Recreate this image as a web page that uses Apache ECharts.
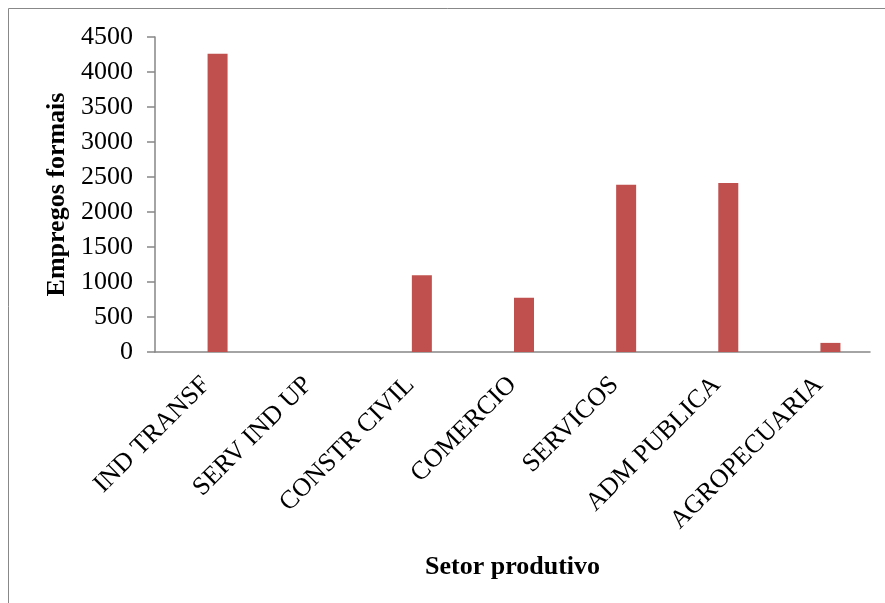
<!DOCTYPE html>
<html>
<head>
<meta charset="utf-8">
<script src="https://cdn.jsdelivr.net/npm/echarts@6/dist/echarts.min.js"></script>
<style>
html,body{margin:0;padding:0;background:#fff;}
#c{width:885px;height:603px;}
</style>
</head>
<body>
<div id="c"></div>
<script>
var categories = ['IND TRANSF', 'SERV IND UP', 'CONSTR CIVIL', 'COMERCIO', 'SERVICOS', 'ADM PUBLICA', 'AGROPECUARIA'];
var empregos = [4260, 0, 1095, 775, 2390, 2415, 130];
var placeholder = [null, null, null, null, null, null, null];
var yTicks = {min: 0, max: 4500, interval: 500};

var chart = echarts.init(document.getElementById('c'));
var font = 'Liberation Serif, Times New Roman, serif';
chart.setOption({
  animation: false,
  backgroundColor: '#fff',
  graphic: [{
    type: 'rect',
    shape: {x: 8.5, y: 8.5, width: 900, height: 620},
    style: {fill: 'none', stroke: '#888888', lineWidth: 1},
    silent: true
  }],
  grid: {left: 155, right: 15, top: 37, bottom: 251, containLabel: false},
  xAxis: {
    type: 'category',
    data: categories,
    name: 'Setor produtivo',
    nameLocation: 'middle',
    nameGap: 202,
    nameTextStyle: {fontFamily: font, fontSize: 26, fontWeight: 'bold', color: '#000'},
    axisLine: {lineStyle: {color: '#868686', width: 1.5}},
    axisTick: {show: false},
    axisLabel: {rotate: 45, interval: 0, margin: 29, fontFamily: font, fontSize: 26, color: '#000'},
    splitLine: {show: false}
  },
  yAxis: {
    type: 'value',
    min: yTicks.min, max: yTicks.max, interval: yTicks.interval,
    name: 'Empregos formais',
    nameLocation: 'middle',
    nameGap: 85,
    nameRotate: 90,
    nameTextStyle: {fontFamily: font, fontSize: 26, fontWeight: 'bold', color: '#000'},
    axisLine: {show: true, lineStyle: {color: '#868686', width: 1.5}},
    axisTick: {show: true, length: 8, lineStyle: {color: '#868686', width: 1.5}},
    axisLabel: {margin: 22, fontFamily: font, fontSize: 26, color: '#000',
      formatter: function (v) { return String(v); }},
    splitLine: {show: false}
  },
  series: [{
    name: 'placeholder',
    type: 'bar',
    data: placeholder,
    barWidth: 20,
    barGap: '15%',
    itemStyle: {color: '#4F81BD'}
  }, {
    name: 'Empregos formais',
    type: 'bar',
    data: empregos,
    barWidth: 20,
    barGap: '15%',
    itemStyle: {color: '#C0504D'}
  }]
});
</script>
</body>
</html>
